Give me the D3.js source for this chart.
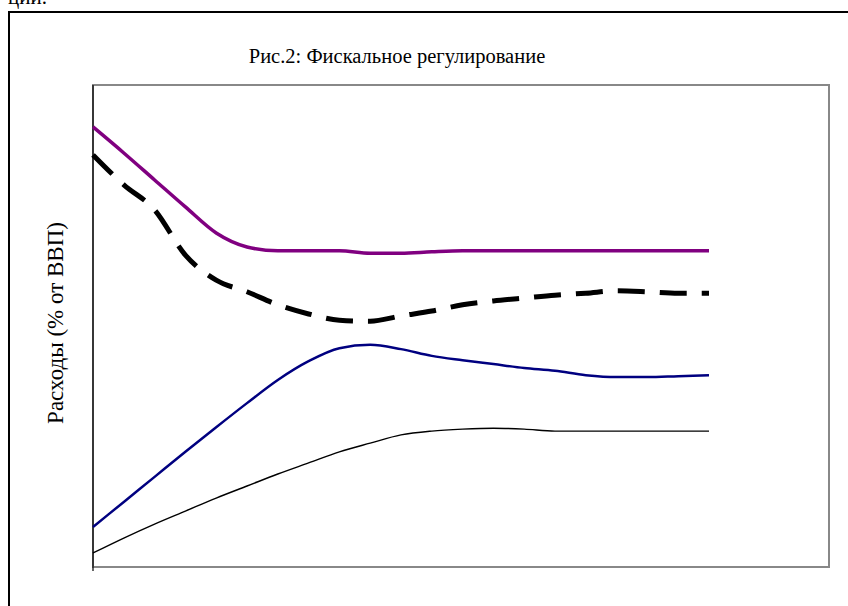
<!DOCTYPE html>
<html><head><meta charset="utf-8">
<script src="https://cdn.jsdelivr.net/npm/d3@7"></script>
<style>body{margin:0;background:#fff}svg{display:block}</style>
</head><body>
<script>
// data (arbitrary units, % of GDP scale)
const periods = d3.range(21);
const purple = [91.3,85.9,80.3,74.7,69.3,66.4,65.6,65.6,65.6,65.1,65.1,65.4,65.6,65.6,65.6,65.6,65.6,65.6,65.6,65.6,65.6];
const dashed = [85.5,79.3,74.1,64.7,59.5,57.1,54.4,52.5,51.2,51.0,52.1,53.1,54.4,55.2,55.8,56.4,56.8,57.3,57.1,56.8,56.8];
const blue   = [8.3,13.5,18.7,23.9,29.0,34.0,38.8,42.7,45.4,46.1,45.2,43.8,42.9,42.1,41.3,40.7,39.8,39.4,39.4,39.6,39.8];
const black  = [2.9,6.0,8.9,11.6,14.3,16.8,19.3,21.6,23.9,25.7,27.4,28.2,28.6,28.8,28.6,28.2,28.2,28.2,28.2,28.2,28.2];
const title = "Рис.2: Фискальное регулирование";
const yLabel = "Расходы (% от ВВП)";

const W = 848, H = 606;
const svg = d3.select("body").append("svg").attr("width", W).attr("height", H);

// cut-off text from previous page
svg.append("text").attr("x", 8).attr("y", 4)
  .attr("font-family", "Liberation Serif").attr("font-size", 21).text("ции.");

// outer frame
svg.append("rect").attr("x", 9).attr("y", 12).attr("width", 860).attr("height", 620)
  .attr("fill", "none").attr("stroke", "#000").attr("stroke-width", 2);

const plot = {l: 93, r: 829, t: 85, b: 567};
const x = d3.scaleLinear().domain([0, 20]).range([93, 709]);
const y = d3.scaleLinear().domain([0, 100]).range([plot.b, plot.t]);

// plot frame
svg.append("rect").attr("x", plot.l).attr("y", plot.t)
  .attr("width", plot.r - plot.l).attr("height", plot.b - plot.t)
  .attr("fill", "none").attr("stroke", "#888").attr("stroke-width", 2);

// left axis
svg.append("g").attr("transform", `translate(${plot.l},0)`)
  .call(d3.axisLeft(y).tickValues([]).tickSizeOuter(0))
  .call(g => g.select(".domain").attr("stroke", "#000").attr("stroke-width", 1.2)
    .attr("d", `M0,${plot.t}V${plot.b + 4}`));

const line = d3.line().x((d, i) => x(periods[i])).y(d => y(d)).curve(d3.curveMonotoneX);

svg.append("path").datum(black).attr("d", line).attr("fill", "none")
  .attr("stroke", "#000").attr("stroke-width", 1.4);
svg.append("path").datum(blue).attr("d", line).attr("fill", "none")
  .attr("stroke", "#000080").attr("stroke-width", 2.5);
svg.append("path").datum(dashed).attr("d", line).attr("fill", "none")
  .attr("stroke", "#000").attr("stroke-width", 5).attr("stroke-dasharray", "27,15");
svg.append("path").datum(purple).attr("d", line).attr("fill", "none")
  .attr("stroke", "#800080").attr("stroke-width", 3.5);

svg.append("text").attr("x", 397).attr("y", 63).attr("text-anchor", "middle")
  .attr("font-family", "Liberation Serif").attr("font-size", 20.5).text(title);

svg.append("text").attr("transform", "translate(63,323) rotate(-90)")
  .attr("text-anchor", "middle").attr("font-family", "Liberation Serif")
  .attr("font-size", 23).text(yLabel);
</script>
</body></html>
